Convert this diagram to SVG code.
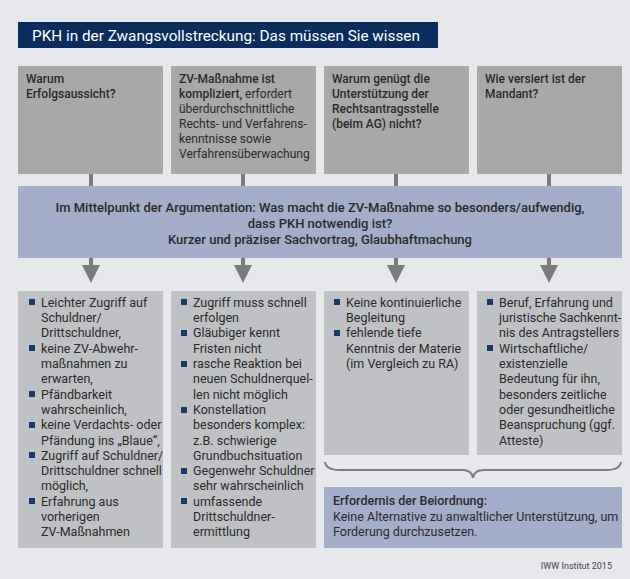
<svg xmlns="http://www.w3.org/2000/svg" width="630" height="579" viewBox="0 0 630 579">
<style>
text{font-family:Roboto,"Liberation Sans",sans-serif;fill:#2a2a2a;font-size:12px}
.b{font-weight:500}
.top{fill:#a8a8a8}
.bot{fill:#c0c1c5}
.lst text{font-size:12.5px}
.blue{fill:#a4adc9}
.bul{fill:#173a6a}
.stub{stroke:#7b7b7b;stroke-width:4}
.arr{fill:#7b7b7b}
</style>
<rect width="630" height="579" fill="#e6e8ec"/>
<g id="title">
<rect x="18" y="22" width="420" height="26" fill="#0b2d5e"/>
<text x="32" y="41" style="fill:#fff;font-size:15.3px">PKH in der Zwangsvollstreckung: Das müssen Sie wissen</text>
</g>
<g id="connectors">
<line class="stub" x1="91" y1="174" x2="91" y2="186"/>
<line class="stub" x1="243" y1="174" x2="243" y2="186"/>
<line class="stub" x1="396" y1="174" x2="396" y2="186"/>
<line class="stub" x1="549" y1="174" x2="549" y2="186"/>
<g class="arr">
<rect x="89" y="258" width="4" height="9"/><polygon points="82,265 100,265 91,283"/>
<rect x="241" y="258" width="4" height="9"/><polygon points="234,265 252,265 243,283"/>
<rect x="394" y="258" width="4" height="9"/><polygon points="387,265 405,265 396,283"/>
<rect x="547" y="258" width="4" height="9"/><polygon points="540,265 558,265 549,283"/>
</g>
<path d="M325,462 Q326,470 340,470 L462,470 Q472,470 473,478 Q474,470 484,470 L606,470 Q620,470 621,462" fill="none" stroke="#7b7b7b" stroke-width="2"/>
</g>
<g id="q1"><rect class="top" x="18" y="66" width="145" height="108"/>
<text class="b" x="26" y="83">Warum</text><text class="b" x="26" y="98">Erfolgsaussicht?</text></g>
<g id="q2"><rect class="top" x="171" y="66" width="145" height="108"/>
<text x="179" y="83"><tspan class="b">ZV-Maßnahme ist</tspan></text>
<text x="179" y="98"><tspan class="b">kompliziert,</tspan> erfordert</text>
<text x="179" y="113">überdurchschnittliche</text>
<text x="179" y="128">Rechts- und Verfahrens-</text>
<text x="179" y="143">kenntnisse sowie</text>
<text x="179" y="158">Verfahrensüberwachung</text></g>
<g id="q3"><rect class="top" x="324" y="66" width="145" height="108"/>
<text class="b" x="332" y="83">Warum genügt die</text><text class="b" x="332" y="98">Unterstützung der</text><text class="b" x="332" y="113">Rechtsantragsstelle</text><text class="b" x="332" y="128">(beim AG) nicht?</text></g>
<g id="q4"><rect class="top" x="477" y="66" width="145" height="108"/>
<text class="b" x="485" y="83">Wie versiert ist der</text><text class="b" x="485" y="98">Mandant?</text></g>
<g id="center"><rect class="blue" x="18" y="186" width="604" height="72"/>
<g text-anchor="middle">
<text x="320" y="212" class="b" style="font-size:13px">Im Mittelpunkt der Argumentation: Was macht die ZV-Maßnahme so besonders/aufwendig,</text>
<text x="320" y="228" class="b" style="font-size:13px">dass PKH notwendig ist?</text>
<text x="320" y="244" class="b" style="font-size:13px">Kurzer und präziser Sachvortrag, Glaubhaftmachung</text></g></g>
<g id="a1" class="lst"><rect class="bot" x="18" y="291" width="145" height="257"/>
<g class="bul"><rect x="29" y="299" width="6" height="6"/><rect x="29" y="345" width="6" height="6"/><rect x="29" y="391" width="6" height="6"/><rect x="29" y="422" width="6" height="6"/><rect x="29" y="452" width="6" height="6"/><rect x="29" y="498" width="6" height="6"/></g>
<text x="41" y="307">Leichter Zugriff auf</text><text x="41" y="322">Schuldner/</text><text x="41" y="337">Drittschuldner,</text><text x="41" y="353">keine ZV-Abwehr-</text><text x="41" y="368">maßnahmen zu</text><text x="41" y="383">erwarten,</text><text x="41" y="399">Pfändbarkeit</text><text x="41" y="414">wahrscheinlich,</text><text x="41" y="429">keine Verdachts- oder</text><text x="41" y="445">Pfändung ins „Blaue“,</text><text x="41" y="460">Zugriff auf Schuldner/</text><text x="41" y="475">Drittschuldner schnell</text><text x="41" y="490">möglich,</text><text x="41" y="506">Erfahrung aus</text><text x="41" y="521">vorherigen</text><text x="41" y="536">ZV-Maßnahmen</text></g>
<g id="a2" class="lst"><rect class="bot" x="171" y="291" width="145" height="257"/>
<g class="bul"><rect x="181" y="299" width="6" height="6"/><rect x="181" y="330" width="6" height="6"/><rect x="181" y="361" width="6" height="6"/><rect x="181" y="407" width="6" height="6"/><rect x="181" y="468" width="6" height="6"/><rect x="181" y="498" width="6" height="6"/></g>
<text x="193" y="307">Zugriff muss schnell</text><text x="193" y="322">erfolgen</text><text x="193" y="337">Gläubiger kennt</text><text x="193" y="353">Fristen nicht</text><text x="193" y="368">rasche Reaktion bei</text><text x="193" y="383">neuen Schuldnerquel-</text><text x="193" y="399">len nicht möglich</text><text x="193" y="414">Konstellation</text><text x="193" y="429">besonders komplex:</text><text x="193" y="445">z.B. schwierige</text><text x="193" y="460">Grundbuchsituation</text><text x="193" y="475">Gegenwehr Schuldner</text><text x="193" y="490">sehr wahrscheinlich</text><text x="193" y="506">umfassende</text><text x="193" y="521">Drittschuldner-</text><text x="193" y="536">ermittlung</text></g>
<g id="a3" class="lst"><rect class="bot" x="324" y="291" width="145" height="164"/>
<g class="bul"><rect x="334" y="299" width="6" height="6"/><rect x="334" y="330" width="6" height="6"/></g>
<text x="346" y="307">Keine kontinuierliche</text><text x="346" y="322">Begleitung</text><text x="346" y="337">fehlende tiefe</text><text x="346" y="353">Kenntnis der Materie</text><text x="346" y="368">(im Vergleich zu RA)</text></g>
<g id="a4" class="lst"><rect class="bot" x="477" y="291" width="145" height="164"/>
<g class="bul"><rect x="487" y="299" width="6" height="6"/><rect x="487" y="345" width="6" height="6"/></g>
<text x="499" y="307">Beruf, Erfahrung und</text><text x="499" y="322">juristische Sachkennt-</text><text x="499" y="337">nis des Antragstellers</text><text x="499" y="353">Wirtschaftliche/</text><text x="499" y="368">existenzielle</text><text x="499" y="383">Bedeutung für ihn,</text><text x="499" y="399">besonders zeitliche</text><text x="499" y="414">oder gesundheitliche</text><text x="499" y="429">Beanspruchung (ggf.</text><text x="499" y="445">Atteste)</text></g>
<g id="result"><rect class="blue" x="324" y="487" width="298" height="61"/>
<text class="b" x="333" y="505" style="font-size:12.5px">Erfordernis der Beiordnung:</text>
<text x="333" y="521" style="font-size:12.5px">Keine Alternative zu anwaltlicher Unterstützung, um</text>
<text x="333" y="536" style="font-size:12.5px">Forderung durchzusetzen.</text></g>
<text x="612" y="569" text-anchor="end" style="font-size:9px;fill:#444">IWW Institut 2015</text>
</svg>
